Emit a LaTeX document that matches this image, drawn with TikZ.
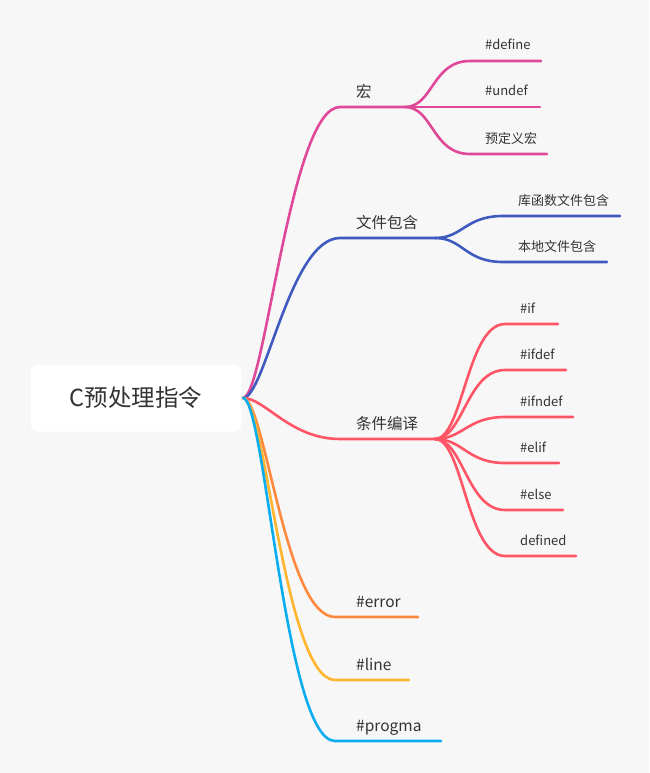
\documentclass[tikz,border=0pt]{standalone}
\usepackage{fontspec}
\setmainfont{Noto Sans CJK SC}
\definecolor{bgc}{HTML}{F7F7F7}
\definecolor{txt}{HTML}{333333}
\definecolor{cmac}{HTML}{E0489A}
\definecolor{cinc}{HTML}{3F5BBF}
\definecolor{ccond}{HTML}{FF5566}
\definecolor{cerr}{HTML}{FF8A3D}
\definecolor{cline}{HTML}{FFB52E}
\definecolor{cprag}{HTML}{0AADEF}
\tikzset{
  branch/.style={line width=2.6pt,line cap=round},
  lab/.style={anchor=base west,inner sep=0pt,text=txt,font=\fontsize{15.5}{18}\selectfont},
  sublab/.style={anchor=base west,inner sep=0pt,text=txt,font=\fontsize{13}{15}\selectfont},
}
\begin{document}
\begin{tikzpicture}[x=1pt,y=-1pt]
  \useasboundingbox (0,0) rectangle (649,773);
  \fill[bgc] (0,0) rectangle (649,773);
  \node[fill=white,rounded corners=8pt,minimum width=211pt,minimum height=67pt,inner sep=0pt,
    text=txt,font=\fontsize{23.5}{27}\selectfont] (root) at (136,398) {C预处理指令};
  \coordinate (hub) at (243,398);
  % first level
  \foreach \nm/\y/\s/\e/\col/\lbl in {hong/107/340/405/cmac/宏, inc/238/340/435/cinc/文件包含,
      cond/439/340/435/ccond/条件编译, err/617/335/418/cerr/\#error,
      lin/680/335/409/cline/\#line, prag/741/335/441/cprag/\#progma}{
    \coordinate (\nm-s) at (\s,\y);
    \coordinate (\nm-e) at (\e,\y);
    \node[lab] (\nm) at (356,\y-9.5) {\lbl};
    \draw[branch,\col] (hub) .. controls +(22,0) and +(-50,0) .. (\nm-s) -- (\nm-e);
  }
  % second level
  \foreach \nm/\p/\y/\s/\e/\col/\lbl in {def/hong/61/470/541/cmac/\#define,
      undef/hong/107/470/540/cmac/\#undef, predef/hong/154/470/547/cmac/预定义宏,
      lib/inc/216/503/620/cinc/库函数文件包含, loc/inc/262/503/607/cinc/本地文件包含,
      if/cond/324/505/558/ccond/\#if, ifdef/cond/370/505/566/ccond/\#ifdef,
      ifndef/cond/417/505/573/ccond/\#ifndef, elif/cond/463/505/559/ccond/\#elif,
      else/cond/510/505/563/ccond/\#else, defd/cond/556/505/576/ccond/defined}{
    \coordinate (\nm-s) at (\s,\y);
    \coordinate (\nm-e) at (\e,\y);
    \node[sublab] (\nm) at (\s+15,\y-11) {\lbl};
    \draw[branch,\col] (\p-e) .. controls +(28,0) and +(-38,0) .. (\nm-s) -- (\nm-e);
  }
\end{tikzpicture}
\end{document}
